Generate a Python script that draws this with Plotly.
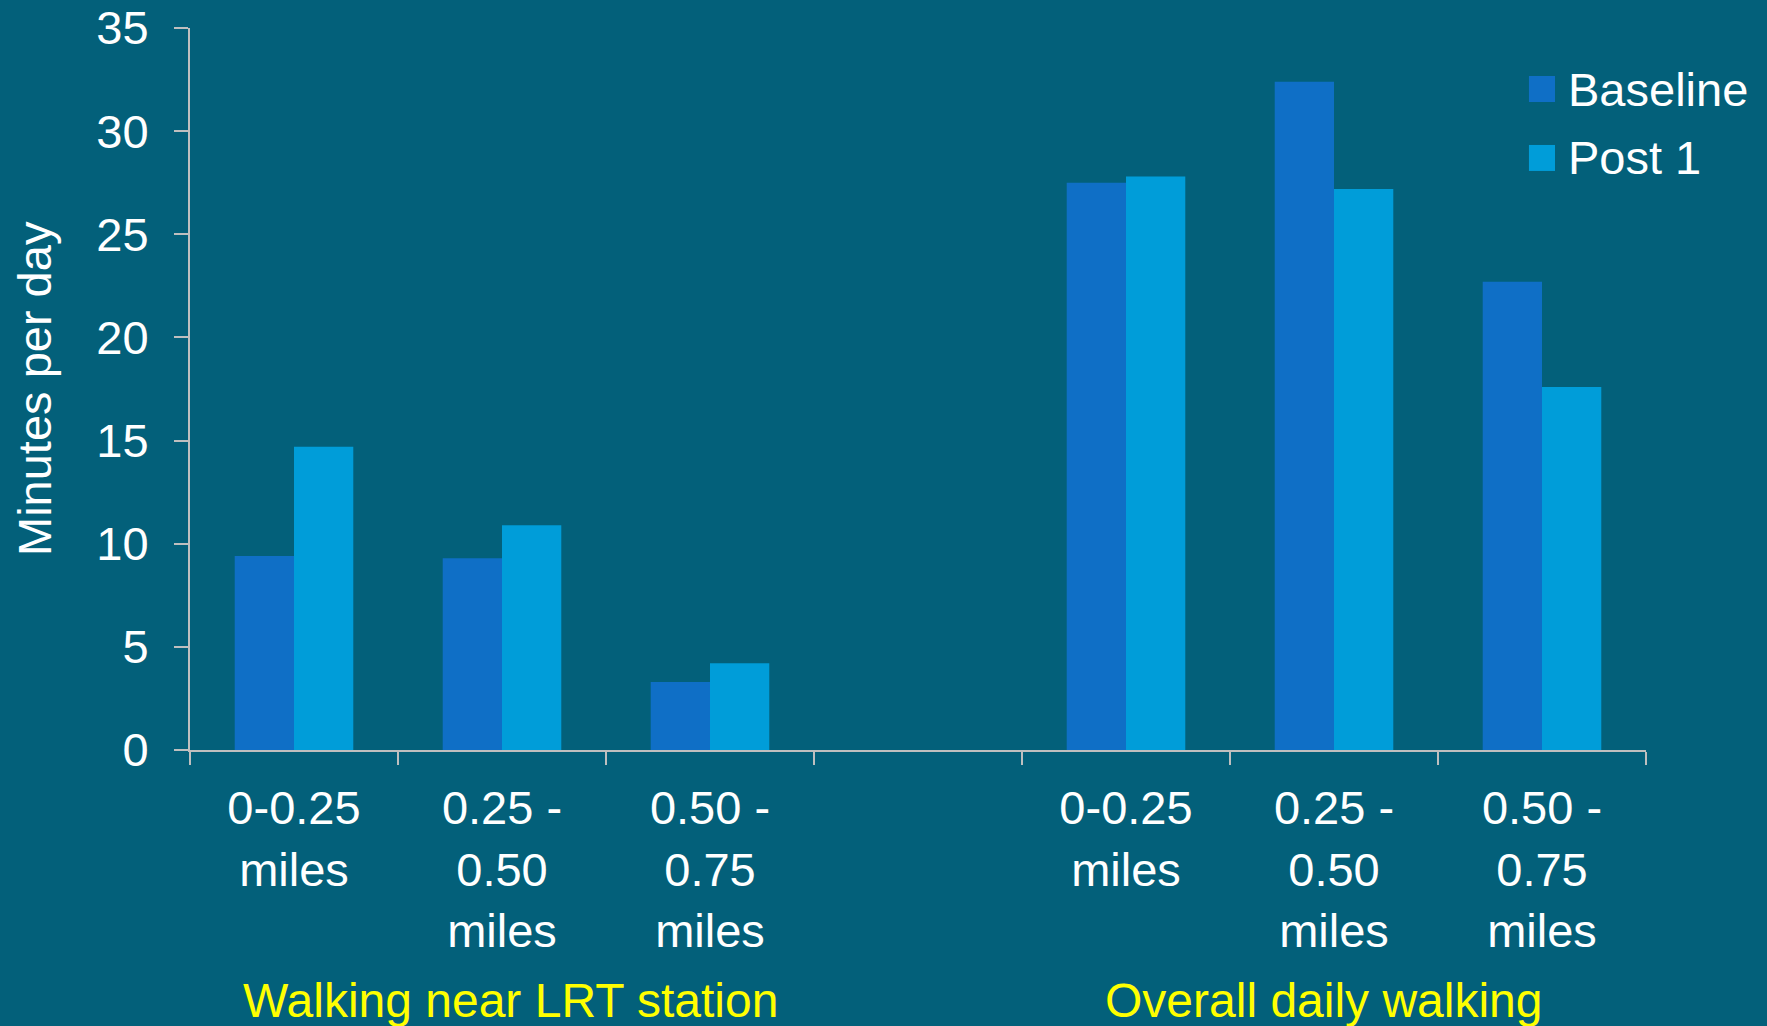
import plotly.graph_objects as go

categories = ["0-0.25<br>miles", "0.25 -<br>0.50<br>miles", "0.50 -<br>0.75<br>miles",
              "0-0.25<br>miles", "0.25 -<br>0.50<br>miles", "0.50 -<br>0.75<br>miles"]
positions = [0, 1, 2, 4, 5, 6]
boundaries = [-0.5, 0.5, 1.5, 2.5, 3.5, 4.5, 5.5, 6.5]
groups = ["Walking near LRT station", "Overall daily walking"]
group_centers = [1, 5]
series_names = ["Baseline", "Post 1"]
baseline = [9.4, 9.3, 3.3, 27.5, 32.4, 22.7]
post1 = [14.7, 10.9, 4.2, 27.8, 27.2, 17.6]
y_ticks = [0, 5, 10, 15, 20, 25, 30, 35]

BG = "#03607A"
COLORS = ["#0F6FC6", "#009DD9"]
AXIS = "#BFBFBF"
FONT = "Liberation Sans, Arial, sans-serif"
FS = 47

fig = go.Figure()
for name, vals, col in zip(series_names, [baseline, post1], COLORS):
    fig.add_trace(go.Bar(x=positions, y=vals, name=name, marker_color=col,
                         marker_line_width=0, showlegend=False))

fig.update_layout(
    width=1767, height=1026,
    paper_bgcolor=BG, plot_bgcolor=BG,
    margin=dict(l=190, r=121, t=28, b=276),
    barmode="group", bargap=0.43, bargroupgap=0,
    font=dict(family=FONT, size=FS, color="white"),
)
fig.update_xaxes(
    range=[-0.5, 6.5], tickmode="array", tickvals=positions, ticktext=categories,
    ticks="", showline=True, linecolor=AXIS, linewidth=2, showgrid=False, zeroline=False,
    tickfont=dict(size=FS, color="white"), ticklabelstandoff=16, automargin=False,
    minor=dict(tickmode="array", tickvals=boundaries, ticks="outside", ticklen=13,
               tickcolor=AXIS, tickwidth=2, showgrid=False),
)
fig.update_yaxes(
    range=[0, 35], tickmode="array", tickvals=y_ticks, ticks="outside", ticklen=14,
    tickcolor=AXIS, tickwidth=2, showline=True, linecolor=AXIS, linewidth=2,
    showgrid=False, zeroline=False, tickfont=dict(size=FS, color="white"),
    ticklabelstandoff=16, automargin=False,
)

# y-axis title
fig.add_annotation(x=0, xref="paper", xshift=-156, xanchor="center", y=0.5, yref="paper",
                   yanchor="middle", text="Minutes per day", textangle=-90, showarrow=False,
                   font=dict(size=FS, color="white"))

# group labels
for g, c, dx in zip(groups, group_centers, [8, -10]):
    fig.add_annotation(x=c, xref="x", xshift=dx, y=0, yref="paper", yshift=-250,
                       yanchor="middle", text=g, showarrow=False,
                       font=dict(size=48, color="#FFFF00"))

# legend (large squares)
leg_y = [0.9155, 0.820]
for name, col, yy in zip(series_names, COLORS, leg_y):
    fig.add_shape(type="rect", xref="paper", yref="paper", x0=0.9196, x1=0.9375,
                  y0=yy - 0.018, y1=yy + 0.018, fillcolor=col, line_width=0)
    fig.add_annotation(x=0.945, xref="paper", y=yy, yref="paper", xanchor="left",
                       yanchor="middle", text=name, showarrow=False,
                       font=dict(size=FS, color="white"))

fig.write_html("out.html")
